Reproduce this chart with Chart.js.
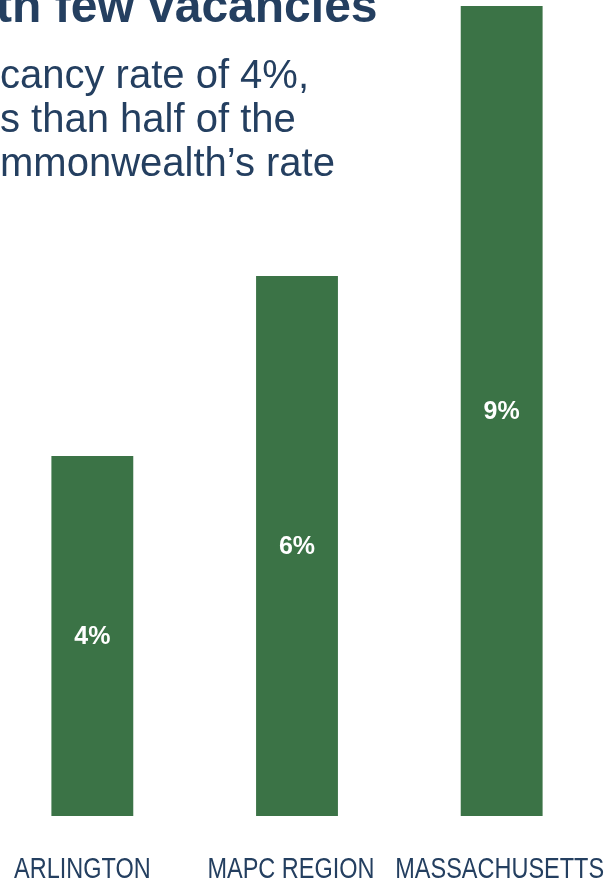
<!DOCTYPE html>
<html>
<head>
<meta charset="utf-8">
<script src="https://cdn.jsdelivr.net/npm/chart.js@4/dist/chart.umd.min.js"></script>
<style>
  html, body { margin: 0; padding: 0; background: #fff; overflow: hidden; }
  #wrap { position: relative; width: 610px; height: 880px; overflow: hidden; }
  #grafico { position: absolute; left: -10px; top: 0; }
  .titulo { position: absolute; left: -4px; top: -22px; line-height: 1; font: bold 48px "Liberation Sans", Arial, sans-serif; color: #243f60; white-space: nowrap; }
  .sub { position: absolute; left: 0; line-height: 1; font-size: 40px; font-family: "Liberation Sans", Arial, sans-serif; color: #243f60; white-space: nowrap; }
</style>
</head>
<body>
<div id="wrap">
  <canvas id="grafico" width="614" height="880"></canvas>
  <div class="titulo">th few vacancies</div>
  <div class="sub" style="top:54px">cancy rate of 4%,</div>
  <div class="sub" style="top:98px">s than half of the</div>
  <div class="sub" style="top:142px">mmonwealth’s rate</div>
</div>
<script>
// taxa de vacância por área
const categorias = ['ARLINGTON', 'MAPC REGION', 'MASSACHUSETTS'];
const valores = [4, 6, 9];
const rotulos = ['4%', '6%', '9%'];
// ajuste horizontal dos nomes em relação ao centro da barra
const deslocNomes = [-10, -6, -2];

const verde = '#3b7346';
const azul = '#243f60';

// escreve o valor dentro de cada barra e os nomes embaixo
const rotulosPlugin = {
  id: 'rotulos',
  afterDatasetsDraw(chart) {
    const ctx = chart.ctx;
    const meta = chart.getDatasetMeta(0);
    ctx.save();
    meta.data.forEach((bar, i) => {
      const yMeio = (bar.y + bar.base) / 2;
      ctx.fillStyle = '#fff';
      ctx.font = 'bold 25px "Liberation Sans", Arial, sans-serif';
      ctx.textAlign = 'center';
      ctx.textBaseline = 'middle';
      ctx.fillText(rotulos[i], bar.x, yMeio + 1);

      // nome da categoria, fonte estreita
      ctx.save();
      ctx.translate(bar.x + deslocNomes[i], 878);
      ctx.scale(0.81, 1);
      ctx.fillStyle = azul;
      ctx.font = '29px "Liberation Sans", Arial, sans-serif';
      ctx.textBaseline = 'alphabetic';
      ctx.fillText(categorias[i], 0, 0);
      ctx.restore();
    });
    ctx.restore();
  }
};

new Chart(document.getElementById('grafico'), {
  type: 'bar',
  data: {
    labels: categorias,
    datasets: [{
      data: valores,
      backgroundColor: verde,
      barPercentage: 0.4,
      categoryPercentage: 1
    }]
  },
  options: {
    responsive: false,
    animation: false,
    layout: { padding: { top: 0, bottom: 64, left: 0, right: 0 } },
    plugins: {
      legend: { display: false },
      tooltip: { enabled: false }
    },
    scales: {
      x: { display: false },
      y: { display: false, min: 0, max: 9.0667 }
    }
  },
  plugins: [rotulosPlugin]
});
</script>
</body>
</html>
